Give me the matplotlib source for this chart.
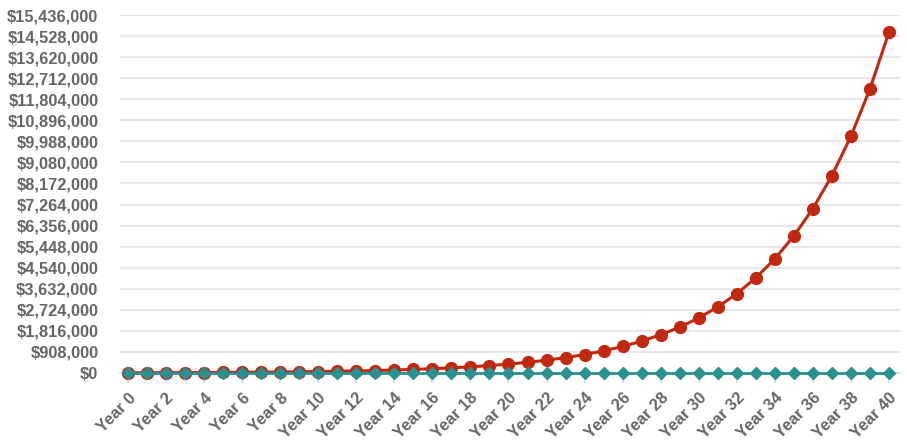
import matplotlib.pyplot as plt
import numpy as np

years = ["Year %d" % i for i in range(41)]

# portfolio value (red)
invested = [10000, 12000, 14400, 17280, 20736, 24883, 29860, 35832, 42998, 51598,
            61917, 74301, 89161, 106993, 128392, 154070, 184884, 221861, 266233, 319480,
            383376, 460051, 552061, 662474, 794968, 953962, 1144755, 1373706, 1648447, 1978136,
            2373763, 2848516, 3418219, 4101863, 4922235, 5906682, 7088019, 8505622, 10206747, 12248096,
            14697716]
# flat series (teal)
saved = [10000] * 41

y_ticks = [0, 908000, 1816000, 2724000, 3632000, 4540000, 5448000, 6356000, 7264000,
           8172000, 9080000, 9988000, 10896000, 11804000, 12712000, 13620000, 14528000, 15436000]

plt.rcParams['font.family'] = ['Liberation Sans', 'DejaVu Sans']

fig = plt.figure(figsize=(9.07, 4.47), dpi=100)
ax = fig.add_axes([120 / 907, 1 - 373 / 447, 780 / 907, 358 / 447])

x = np.arange(len(years))
ax.plot(x, invested, color="#c0280f", lw=2.2, marker="o", ms=8.5, zorder=3, clip_on=False)
ax.plot(x, saved, color="#2a9090", lw=2.0, marker="D", ms=6.5, zorder=4, clip_on=False)

ax.set_ylim(0, 15436000)
ax.set_xlim(-0.42, 40.58)
ax.set_yticks(y_ticks)
ax.set_yticklabels(["$" + format(v, ",") for v in y_ticks])
ax.set_xticks(x[::2])
ax.set_xticklabels(years[::2], rotation=45, ha="right", rotation_mode="anchor")

ax.grid(axis="y", color="#e3e3e3", lw=1.2)
ax.set_axisbelow(True)
for s in ["top", "right", "left"]:
    ax.spines[s].set_visible(False)
ax.spines["bottom"].set_color("#ccd6eb")
ax.spines["bottom"].set_linewidth(1.2)
ax.tick_params(axis="y", length=0, pad=15.5, labelsize=11.8, labelcolor="#666666")
ax.tick_params(axis="x", length=7.5, color="#ccd6eb", width=1.2, pad=5, labelsize=11.8, labelcolor="#666666")
for lab in ax.get_xticklabels() + ax.get_yticklabels():
    lab.set_fontweight("bold")

fig.savefig("out.png", dpi=100)
